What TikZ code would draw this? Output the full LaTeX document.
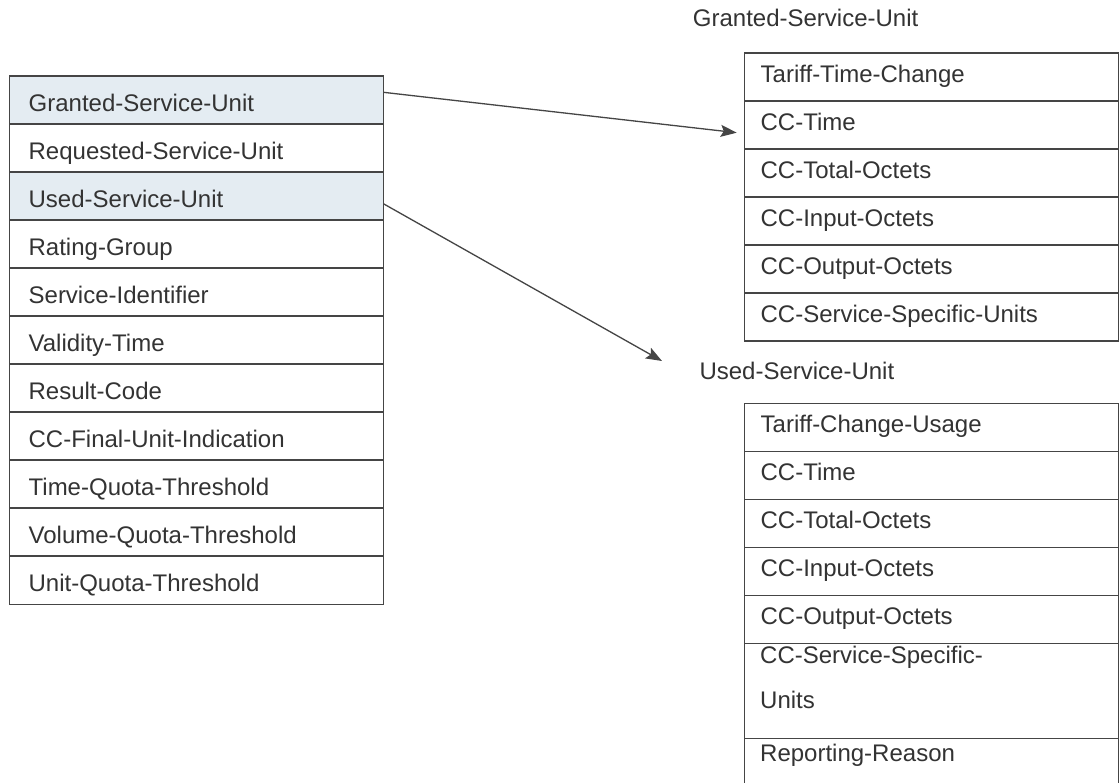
\documentclass[tikz,border=0pt]{standalone}
\usepackage{fontspec}
\setmainfont{Liberation Sans}
\usetikzlibrary{arrows.meta,calc}
\definecolor{ln}{HTML}{454545}
\definecolor{tx}{HTML}{333333}
\definecolor{hl}{HTML}{E4ECF2}
\begin{document}
\begin{tikzpicture}[x=1pt,y=-1pt,
  cell/.style={draw=ln, line width=1.3pt, rectangle, minimum width=373.5pt,
    inner sep=0pt, text=tx, font=\fontsize{24}{29}\selectfont, anchor=north west, align=left},
  lcell/.style={cell, minimum height=48pt, text width=335.5pt, text height=22pt, text depth=0pt},
  rcell/.style={cell, minimum height=48pt, text width=341.5pt, text height=17pt, text depth=7pt},
  hlcell/.style={lcell, fill=hl},
  ttl/.style={text=tx, font=\fontsize{24}{29}\selectfont, inner sep=0pt, anchor=base west},
  link/.style={draw=ln, line width=1.3pt, -{Stealth[length=16pt,width=12pt,inset=3pt]}}
]
\clip (0,0) rectangle (1120,783);
\fill[white] (0,0) rectangle (1120,783);

% left table
\node[hlcell] (l1)  at (9,75.5)  {Granted-Service-Unit};
\node[lcell]  (l2)  at (9,123.5) {Requested-Service-Unit};
\node[hlcell] (l3)  at (9,171.5) {Used-Service-Unit};
\node[lcell]  (l4)  at (9,219.5) {Rating-Group};
\node[lcell]  (l5)  at (9,267.5) {Service-Identifier};
\node[lcell]  (l6)  at (9,315.5) {Validity-Time};
\node[lcell]  (l7)  at (9,363.5) {Result-Code};
\node[lcell]  (l8)  at (9,411.5) {CC-Final-Unit-Indication};
\node[lcell]  (l9)  at (9,459.5) {Time-Quota-Threshold};
\node[lcell]  (l10) at (9,507.5) {Volume-Quota-Threshold};
\node[lcell]  (l11) at (9,555.5) {Unit-Quota-Threshold};

% granted table
\node[ttl] (gt) at (692.7,26.7) {Granted-Service-Unit};
\node[rcell] (g1) at (744,52.5)  {Tariff-Time-Change};
\node[rcell] (g2) at (744,100.5) {CC-Time};
\node[rcell] (g3) at (744,148.5) {CC-Total-Octets};
\node[rcell] (g4) at (744,196.5) {CC-Input-Octets};
\node[rcell] (g5) at (744,244.5) {CC-Output-Octets};
\node[rcell] (g6) at (744,292.5) {CC-Service-Specific-Units};

% used table
\node[ttl] (ut) at (699.3,380) {Used-Service-Unit};
\node[rcell] (u1) at (744,402.7) {Tariff-Change-Usage};
\node[rcell] (u2) at (744,450.7) {CC-Time};
\node[rcell] (u3) at (744,498.7) {CC-Total-Octets};
\node[rcell] (u4) at (744,546.7) {CC-Input-Octets};
\node[rcell] (u5) at (744,594.7) {CC-Output-Octets};
\node[rcell, minimum height=95pt] (u6) at (744,642.7) {};
\node[ttl] (u6a) at ($(u6.north west)+(16,20.5)$) {CC-Service-Specific-};
\node[ttl] (u6b) at ($(u6.north west)+(16,65.5)$) {Units};
\node[rcell, minimum height=60pt] (u7) at (744,737.7) {};
\node[ttl] (u7a) at ($(u7.north west)+(16,24)$) {Reporting-Reason};

% connectors
\coordinate (e1) at (736.7,132.7);
\coordinate (e2) at (662,361);
\draw[link] ($(l1.east)+(0,-7.8)$) -- (e1);
\draw[link] ($(l3.east)+(0,7.8)$) -- (e2);
\end{tikzpicture}
\end{document}
